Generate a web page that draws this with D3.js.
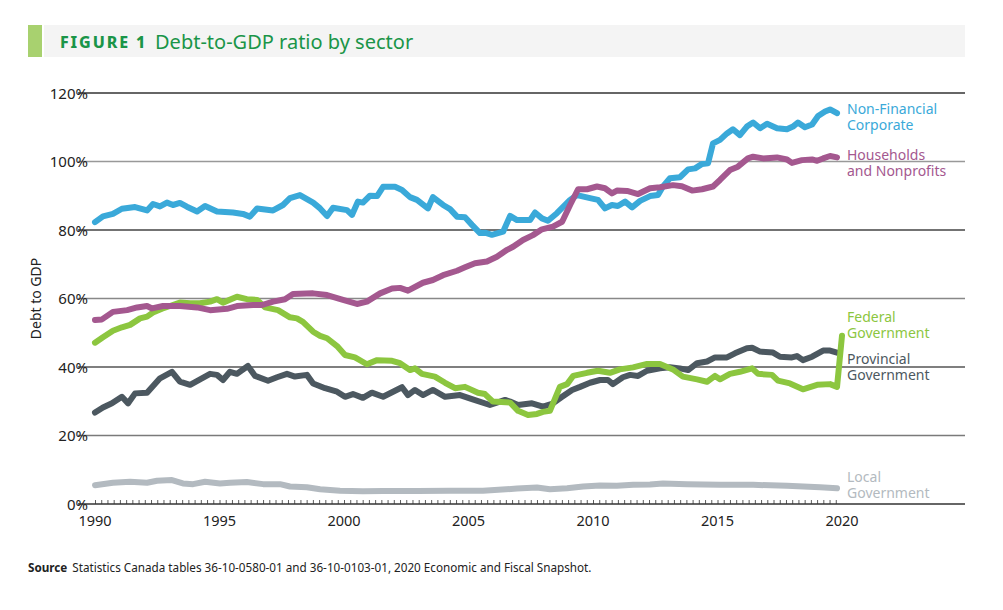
<!DOCTYPE html>
<html>
<head>
<meta charset="utf-8">
<script src="https://cdn.jsdelivr.net/npm/d3@7/dist/d3.min.js"></script>
<style>
  html, body { margin: 0; padding: 0; background: #fff; }
  svg text { font-family: "Noto Sans", "Open Sans", sans-serif; }
</style>
</head>
<body>
<svg id="chart" width="1003" height="610"></svg>
<script>
// ---------------- DATA ----------------
const yTicks = [0, 20, 40, 60, 80, 100, 120];
const xTickYears = [1990, 1995, 2000, 2005, 2010, 2015, 2020];

const corpYears = [1990.00,1990.32,1990.72,1991.08,1991.61,1992.09,1992.33,1992.61,1992.89,1993.13,1993.41,1993.69,1994.10,1994.42,1994.90,1995.54,1995.94,1996.22,1996.51,1997.15,1997.55,1997.83,1998.23,1998.76,1999.04,1999.32,1999.56,2000.12,2000.32,2000.56,2000.76,2001.04,2001.33,2001.57,2002.05,2002.33,2002.65,2002.93,2003.37,2003.57,2003.98,2004.26,2004.54,2004.86,2005.14,2005.46,2005.66,2005.94,2006.39,2006.67,2006.95,2007.47,2007.67,2007.95,2008.19,2008.55,2009.08,2009.36,2009.88,2010.20,2010.48,2010.76,2011.00,2011.29,2011.57,2011.89,2012.29,2012.61,2012.81,2013.09,2013.49,2013.82,2014.10,2014.38,2014.62,2014.82,2015.10,2015.38,2015.62,2015.90,2016.18,2016.43,2016.71,2016.99,2017.39,2017.79,2018.03,2018.23,2018.51,2018.80,2019.04,2019.32,2019.52,2019.80];
const corpValues = [82.3,84.0,84.7,86.2,86.7,85.7,87.6,86.9,88.0,87.3,87.9,86.8,85.4,87.0,85.4,85.1,84.7,83.9,86.3,85.7,87.3,89.3,90.2,88.0,86.3,84.1,86.5,85.8,84.4,88.3,88.0,90.0,89.9,92.6,92.6,91.7,89.6,88.8,86.3,89.6,87.3,86.1,83.9,83.7,81.5,79.1,79.2,78.6,79.5,84.1,82.9,82.9,85.1,83.4,82.7,84.9,88.8,90.2,89.3,88.8,86.3,87.3,87.0,88.3,86.6,88.5,89.9,90.2,92.7,95.1,95.4,97.7,98.0,99.3,99.5,105.3,106.3,108.2,109.4,107.7,110.2,111.4,109.7,111.0,109.7,109.4,110.2,111.4,110.0,110.8,113.3,114.6,115.2,114.1];

const houseYears = [1990.00,1990.28,1990.72,1991.29,1991.69,1992.09,1992.29,1992.73,1993.41,1994.10,1994.62,1995.30,1995.70,1996.35,1996.71,1997.15,1997.63,1997.95,1998.76,1999.32,1999.96,2000.52,2000.92,2001.45,2001.93,2002.25,2002.57,2003.17,2003.57,2003.98,2004.54,2004.86,2005.26,2005.74,2006.14,2006.55,2006.79,2007.19,2007.59,2007.95,2008.39,2008.76,2009.08,2009.40,2009.76,2010.16,2010.48,2010.76,2010.96,2011.37,2011.81,2012.29,2012.69,2013.21,2013.57,2013.98,2014.38,2014.82,2015.10,2015.50,2015.82,2016.22,2016.43,2016.83,2017.39,2017.79,2017.99,2018.39,2018.80,2019.00,2019.24,2019.52,2019.80];
const houseValues = [53.7,53.9,56.1,56.6,57.4,57.8,57.1,57.8,57.8,57.4,56.6,57.0,57.8,58.1,58.1,59.1,59.8,61.3,61.5,61.0,59.6,58.4,59.1,61.5,62.9,63.1,62.3,64.6,65.4,66.8,68.1,69.1,70.3,70.8,72.2,74.2,75.1,77.1,78.5,80.2,81.0,82.4,87.3,91.9,91.9,92.7,92.2,90.7,91.5,91.4,90.5,92.2,92.5,93.1,92.8,91.5,91.9,92.7,94.6,97.5,98.5,100.9,101.4,100.9,101.2,100.6,99.6,100.4,100.6,100.2,100.9,101.6,101.2];

const fedYears = [1990.00,1990.32,1990.72,1991.08,1991.41,1991.81,1992.09,1992.33,1992.69,1993.01,1993.41,1993.82,1994.22,1994.62,1994.90,1995.14,1995.70,1996.10,1996.51,1996.83,1997.35,1997.83,1998.11,1998.35,1998.76,1999.04,1999.32,1999.72,2000.04,2000.44,2000.92,2001.33,2001.93,2002.25,2002.65,2002.85,2003.13,2003.65,2004.06,2004.46,2004.86,2005.38,2005.66,2005.98,2006.67,2006.99,2007.39,2007.75,2007.99,2008.27,2008.67,2008.96,2009.20,2009.76,2010.20,2010.68,2011.08,2011.61,2012.17,2012.69,2013.21,2013.61,2014.18,2014.58,2014.90,2015.10,2015.50,2015.90,2016.39,2016.63,2017.19,2017.43,2017.91,2018.43,2019.00,2019.52,2019.80,2020.00];
const fedValues = [47.1,48.7,50.6,51.6,52.3,54.2,54.7,55.9,57.0,57.8,58.8,58.6,58.6,59.1,59.8,58.8,60.5,59.8,59.6,57.4,56.6,54.5,54.2,53.2,50.3,49.1,48.4,46.1,43.5,42.8,40.8,42.0,41.8,41.1,39.1,39.6,38.0,37.2,35.4,33.8,34.2,32.5,32.1,29.9,29.6,27.2,26.0,26.3,26.9,27.2,34.2,35.0,37.4,38.3,38.9,38.3,39.3,39.9,40.9,40.9,39.3,37.2,36.4,35.7,37.4,36.4,38.0,38.6,39.6,38.0,37.7,36.0,35.2,33.5,34.8,35.0,34.2,49.1];

const provYears = [1990.00,1990.32,1990.68,1991.08,1991.33,1991.61,1992.09,1992.61,1993.09,1993.41,1993.82,1994.22,1994.62,1994.90,1995.14,1995.42,1995.70,1996.14,1996.43,1996.95,1997.31,1997.71,1998.03,1998.51,1998.76,1999.24,1999.72,2000.04,2000.36,2000.76,2001.12,2001.57,2002.33,2002.57,2002.85,2003.17,2003.57,2004.06,2004.66,2005.14,2005.86,2006.47,2006.67,2006.99,2007.55,2007.99,2008.35,2008.76,2009.16,2009.48,2009.88,2010.28,2010.60,2010.80,2011.20,2011.49,2011.81,2012.17,2012.69,2013.09,2013.49,2013.82,2014.18,2014.58,2014.90,2015.38,2015.70,2016.18,2016.39,2016.71,2017.23,2017.51,2017.99,2018.19,2018.43,2018.80,2019.24,2019.52,2019.80];
const provValues = [26.7,28.2,29.4,31.3,29.4,32.3,32.5,36.7,38.6,35.7,34.8,36.4,38.0,37.7,36.2,38.6,38.0,40.3,37.4,36.0,37.0,38.0,37.2,37.7,35.2,33.8,32.8,31.3,32.1,31.0,32.5,31.3,34.1,31.8,33.3,31.8,33.3,31.3,31.8,30.6,28.9,30.4,29.9,28.9,29.4,28.4,29.2,31.3,33.3,34.2,35.4,36.2,36.2,35.0,37.0,37.7,37.4,38.9,39.6,39.9,39.6,39.1,41.1,41.6,42.8,42.8,44.0,45.5,45.6,44.5,44.2,43.0,42.8,43.2,42.0,43.0,44.8,44.8,44.2];

const localYears = [1990.00,1990.72,1991.41,1992.09,1992.49,1993.09,1993.53,1993.94,1994.42,1995.02,1995.42,1996.10,1996.75,1997.43,1997.83,1998.51,1999.04,1999.84,2000.76,2001.57,2002.93,2004.26,2005.58,2006.95,2007.75,2008.27,2008.96,2009.60,2010.28,2010.96,2011.61,2012.29,2012.81,2013.78,2015.10,2016.43,2017.79,2019.12,2019.80];
const localValues = [5.5,6.2,6.5,6.2,6.8,7.0,6.0,5.8,6.5,6.0,6.2,6.4,5.8,5.8,5.1,4.9,4.3,3.9,3.7,3.8,3.8,3.9,3.9,4.5,4.8,4.3,4.6,5.1,5.4,5.3,5.6,5.7,6.0,5.8,5.6,5.6,5.3,4.9,4.6];

const seriesNames = ["Local Government","Provincial Government","Federal Government","Non-Financial Corporate","Households and Nonprofits"];
const labelLines = {
  "Non-Financial Corporate": ["Non-Financial", "Corporate"],
  "Households and Nonprofits": ["Households", "and Nonprofits"],
  "Federal Government": ["Federal", "Government"],
  "Provincial Government": ["Provincial", "Government"],
  "Local Government": ["Local", "Government"]
};

// ---------------- STYLE ----------------
const colors = {
  "Non-Financial Corporate": "#3aa9d9",
  "Households and Nonprofits": "#a4588f",
  "Federal Government": "#8cc63f",
  "Provincial Government": "#4c5860",
  "Local Government": "#b3bac0"
};
const seriesData = {
  "Non-Financial Corporate": [corpYears, corpValues],
  "Households and Nonprofits": [houseYears, houseValues],
  "Federal Government": [fedYears, fedValues],
  "Provincial Government": [provYears, provValues],
  "Local Government": [localYears, localValues]
};
const labelTop = {  // value at the vertical centre of the first label line
  "Non-Financial Corporate": 115.4,
  "Households and Nonprofits": 101.9,
  "Federal Government": 54.5,
  "Provincial Government": 42.2,
  "Local Government": 7.9
};

const svg = d3.select("#chart");
const x = d3.scaleLinear().domain([1990, 2020]).range([95, 842]);
const y = d3.scaleLinear().domain([0, 120]).range([504, 93]);
const gridX1 = 78, gridX2 = 965;

// Title
svg.append("rect").attr("x", 44).attr("y", 25).attr("width", 921).attr("height", 32).attr("fill", "#f4f4f4");
svg.append("rect").attr("x", 28).attr("y", 25).attr("width", 14).attr("height", 32).attr("fill", "#a8d16f");
svg.append("text").attr("x", 60).attr("y", 48).attr("font-size", 16).attr("font-weight", 800)
  .attr("letter-spacing", 1.9).attr("fill", "#1a9548").text("FIGURE 1");
svg.append("text").attr("x", 155).attr("y", 49).attr("font-size", 20).attr("fill", "#1a9548")
  .text("Debt-to-GDP ratio by sector");

// Gridlines
const gridColor = {0: "#333", 20: "#7a7a7a", 40: "#555", 60: "#888", 80: "#444", 100: "#999", 120: "#333"};
svg.append("g").selectAll("line").data(yTicks).join("line")
  .attr("x1", gridX1).attr("x2", gridX2)
  .attr("y1", d => y(d)).attr("y2", d => y(d))
  .attr("stroke", d => gridColor[d]).attr("stroke-width", 1.3);

// Y labels
svg.append("g").selectAll("text").data(yTicks).join("text")
  .attr("x", 88).attr("y", d => y(d) + 5.5).attr("text-anchor", "end")
  .attr("font-size", 15).attr("fill", "#222").text(d => d + "%");

svg.append("text").attr("transform", `translate(41,${y(60)}) rotate(-90)`)
  .attr("text-anchor", "middle").attr("font-size", 14).attr("fill", "#222").text("Debt to GDP");

// X axis with quarterly ticks
const qTicks = d3.range(0, 120).map(i => 1990 + i * 0.25);
const xAxis = d3.axisTop(x).tickValues(qTicks).tickSize(4).tickFormat("");
const gx = svg.append("g").attr("transform", `translate(0,${y(0)})`).call(xAxis);
gx.select(".domain").remove();
gx.selectAll(".tick line").attr("stroke", "#333").attr("stroke-width", 0.8);

svg.append("g").selectAll("text").data(xTickYears).join("text")
  .attr("x", d => x(d)).attr("y", 526).attr("text-anchor", "middle")
  .attr("font-size", 14.5).attr("fill", "#222").text(d => d);

// Lines
const line = d3.line().x(d => x(d[0])).y(d => y(d[1]));
seriesNames.forEach(name => {
  const [yr, vals] = seriesData[name];
  const pts = yr.map((t, i) => [t, vals[i]]);
  svg.append("path").datum(pts).attr("d", line)
    .attr("fill", "none").attr("stroke", colors[name]).attr("stroke-width", 6)
    .attr("stroke-linejoin", "round").attr("stroke-linecap", "round");
});

// Labels (one text element per line)
seriesNames.forEach(name => {
  labelLines[name].forEach((l, i) => {
    svg.append("text").attr("x", 847).attr("y", y(labelTop[name]) + 5 + i * 15.8)
      .attr("font-size", 14).attr("fill", colors[name]).text(l);
  });
});

// Source
const src = svg.append("text").attr("x", 28).attr("y", 572).attr("font-size", 11.7).attr("fill", "#222");
src.append("tspan").attr("font-weight", 700).text("Source");
src.append("tspan").attr("dx", 5).text("Statistics Canada tables 36-10-0580-01 and 36-10-0103-01, 2020 Economic and Fiscal Snapshot.");
</script>
</body>
</html>
